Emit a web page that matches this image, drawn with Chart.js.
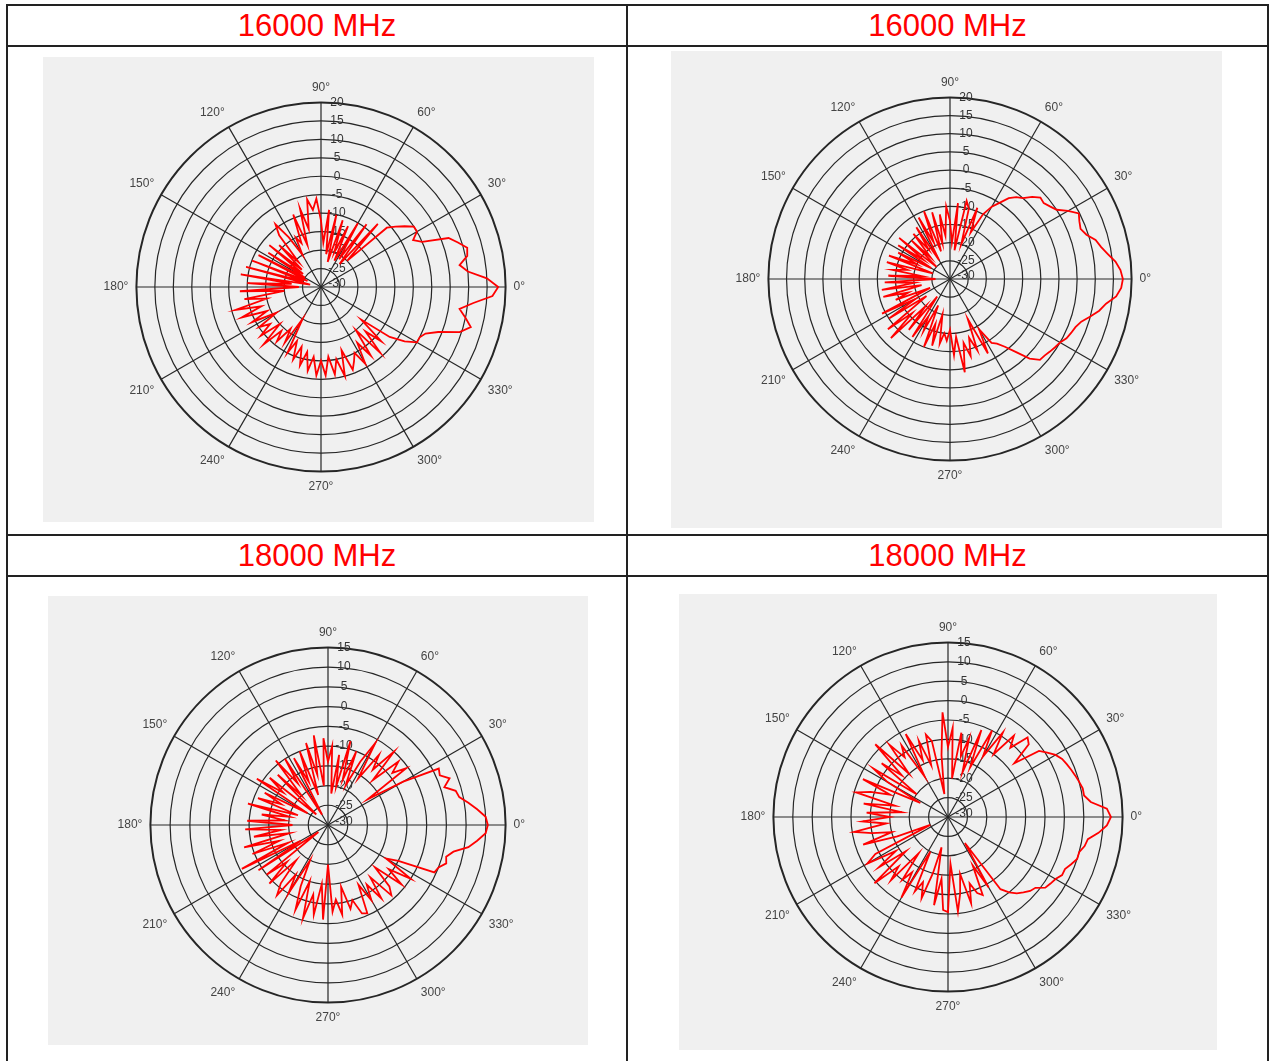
<!DOCTYPE html>
<html>
<head>
<meta charset="utf-8">
<script src="https://cdn.jsdelivr.net/npm/chart.js@4.4.1/dist/chart.umd.min.js"></script>
<style>
  html, body { margin: 0; padding: 0; background: #fff; }
  body { width: 1271px; height: 1061px; position: relative; overflow: hidden; font-family: "Liberation Sans", Arial, sans-serif; }
  .rule { position: absolute; background: #222; }
  .head { position: absolute; color: #ff0000; font-size: 31px; line-height: 39px; height: 39px; text-align: center; }
  .plot { position: absolute; background: #f0f0f0; }
  .plot canvas { display: block; }
</style>
</head>
<body>
<!-- table rules -->
<div class="rule" style="left:6px;top:4px;width:1263px;height:2px"></div>
<div class="rule" style="left:6px;top:4px;width:2px;height:1060px"></div>
<div class="rule" style="left:1267px;top:4px;width:2px;height:1060px"></div>
<div class="rule" style="left:626px;top:4px;width:2px;height:1060px"></div>
<div class="rule" style="left:6px;top:45px;width:1263px;height:2px"></div>
<div class="rule" style="left:6px;top:534px;width:1263px;height:2px"></div>
<div class="rule" style="left:6px;top:575px;width:1263px;height:2px"></div>

<div class="head" style="left:8px;top:6px;width:618px">16000 MHz</div>
<div class="head" style="left:628px;top:6px;width:639px">16000 MHz</div>
<div class="head" style="left:8px;top:536px;width:618px">18000 MHz</div>
<div class="head" style="left:628px;top:536px;width:639px">18000 MHz</div>

<div class="plot" style="left:43px;top:57px;width:551px;height:465px"><canvas id="p1"></canvas></div>
<div class="plot" style="left:671px;top:51px;width:551px;height:477px"><canvas id="p2"></canvas></div>
<div class="plot" style="left:48px;top:596px;width:540px;height:449px"><canvas id="p3"></canvas></div>
<div class="plot" style="left:679px;top:594px;width:538px;height:456px"><canvas id="p4"></canvas></div>

<script>
// azimuth in degrees, counter-clockwise from 0° (right), one sample every 3°
const STEP = 3
const angles = []
for (let a = 0; a < 360; a += STEP) angles.push(a)

// gain in dB, same order as angles (0°, 3°, ... 357°)
const gain16Left = [
  18, 15, 10, 8, 10.5, 11, 9, 7, 0, -2,
  0, 0, -2, -4, -6, -20, -7, -22, -9, -21,
  -10, -22, -12, -20, -11, -23, -10, -21, -9, -18,
  -12, -6, -9, -6, -14, -8, -18, -9, -17, -15,
  -20, -14, -9, -12, -21, -14, -23, -12, -24, -13,
  -25, -11, -26, -10, -25, -9, -27, -8, -22, -10,
  -24, -8, -20, -9, -15, -6, -13, -7, -14, -9,
  -16, -10, -13, -9, -15, -8, -14, -11, -16, -12,
  -20, -10, -14, -9, -13, -8, -12, -7, -11, -6,
  -10, -6, -11, -6, -10, -5, -12, -6, -8, -10,
  -6, -12, -7, -15, -6, -13, -8, -16, -7, -3,
  0, 0, 1, 4, 9.5, 12, 10, 8, 11.5, 16.5
]
const gain16Right = [
  17.6, 17, 15.8, 14, 12.5, 11.5, 9.5, 8.5, 9, 9.8,
  7.5, 5, 4, 3.2, 3.5, 2, 0, -1, -2.5, -5,
  -7, -10, -16, -9, -20, -10, -8, -22, -9, -20,
  -14, -10, -18, -12, -20, -11, -22, -10, -19, -11,
  -24, -13, -20, -14, -22, -15, -25, -12, -21, -13,
  -24, -14, -20, -12, -25, -12, -18, -14, -22, -13,
  -26, -12, -20, -11, -22, -11, -18, -14, -24, -9,
  -19, -10, -22, -8, -16, -7, -20, -12, -24, -11,
  -18, -14, -22, -10, -17, -11, -20, -12, -15, -13,
  -16, -9, -14, -4, -12, -8, -13, -9, -18, -7,
  -14, -9, -8, -6, -3, 1, 3.3, 3.5, 4, 4.5,
  5, 6, 6.5, 7, 8, 10, 12, 13.5, 16, 17.2
]
const gain18Left = [
  10.5, 10, 8, 6, 4, 3.5, 1, 3, 1, 1.5,
  -8, -18, -5.5, -9, -6, -14, -5, -12, -8, -16,
  -6, -12, -19, -10, -18, -8, -20, -12, -22, -10,
  -14, -8, -20, -7, -17, -8.5, -22, -10, -18, -11,
  -27, -10, -17, -9, -20, -12, -26, -11, -16, -8.5,
  -24, -12, -17, -11, -22, -9, -20, -13, -19, -9.5,
  -21, -9, -18, -11, -20, -8, -17, -9.5, -19, -5.5,
  -22, -9, -27, -10, -16, -9, -18, -11, -8, -15,
  -10, -20, -13, -7, -15, -5.5, -12, -7, -15, -6,
  -20, -8, -11, -7, -14, -8, -10, -6, -5.5, -13,
  -8, -12, -7, -13, -6, -8, -14, -6, -11, -5,
  -13, -10, -0.5, 0, 1.5, 1, 2.5, 6, 8, 10
]
const gain18Right = [
  12, 11, 7, 5.5, 5.5, 5, 4.5, 4, 3.5, 3,
  2, 0.5, -1, -8, -2, -1, -6, -3, -10, -4,
  -12, -5, -16, -6, -18, -9, -14, -8, -20, -7,
  -12, -3, -14, -24, -10, -8, -16, -9, -14, -6,
  -18, -8, -11, -6, -15, -3.5, -14, -8, -20, -7,
  -12, -22, -6, -14, -9, -5.5, -16, -8, -18, -9,
  -15, -8, -14, -5.5, -10, -15, -7, -16, -25, -9,
  -6, -14, -8, -16, -4.5, -12, -8, -18, -10, -13,
  -6, -20, -9, -12, -8, -15, -22, -7, -14, -6,
  -5.5, -18, -5.5, -10, -15, -7, -12, -9, -8, -16,
  -9, -22, -7, -5, -3.5, -2.5, -1.5, -1, 1, 1.5,
  2, 3, 3, 4, 5, 5, 6, 6.5, 9, 11
]

// radial tick labels (dB)
const rTicks16 = [20, 15, 10, 5, 0, -5, -10, -15, -20, -25, -30]
const rTicks18 = [15, 10, 5, 0, -5, -10, -15, -20, -25, -30]

const GRID = '#262626'

// draws the dB labels up the 90° spoke, just right of it
const rLabels = {
  id: 'rLabels',
  beforeDatasetsDraw(chart, args, opts) {
    const s = chart.scales.r
    const ctx = chart.ctx
    ctx.save()
    ctx.font = '12px "Liberation Sans", Arial, sans-serif'
    ctx.fillStyle = '#333'
    ctx.textAlign = 'center'
    ctx.textBaseline = 'middle'
    opts.values.forEach(v => {
      const d = s.getDistanceFromCenterForValue(v)
      ctx.fillText(String(v), s.xCenter + 16, s.yCenter - d - (v === -30 ? 3 : 0))
    })
    ctx.restore()
  }
}

function polar(id, gains, rMax, ticks, pad) {
  // radar runs clockwise from the top, so index i sits at 90° - i*STEP
  const labels = []
  const values = []
  for (let i = 0; i < angles.length; i++) {
    const a = (90 - angles[i] + 360) % 360
    labels.push(a % 30 === 0 ? a + '°' : '')
    values.push(gains[angles.indexOf(a)])
  }
  return new Chart(document.getElementById(id), {
    type: 'radar',
    data: {
      labels: labels,
      datasets: [{
        data: values,
        borderColor: '#ff0000',
        borderWidth: 1.8,
        fill: false,
        pointRadius: 0,
        tension: 0
      }]
    },
    options: {
      responsive: true,
      maintainAspectRatio: false,
      animation: false,
      events: [],
      layout: { padding: pad },
      plugins: {
        legend: { display: false },
        tooltip: { enabled: false },
        rLabels: { values: ticks }
      },
      scales: {
        r: {
          min: -30,
          max: rMax,
          startAngle: 0,
          ticks: { display: false, stepSize: 5 },
          grid: {
            circular: true,
            color: GRID,
            lineWidth: (c) => (c.tick && c.tick.value === rMax) ? 2 : 1.2
          },
          angleLines: {
            color: (c) => c.label ? GRID : 'rgba(0,0,0,0)',
            lineWidth: (c) => c.label ? 1.2 : 0
          },
          pointLabels: {
            display: true,
            padding: 8,
            color: '#444',
            font: { family: '"Liberation Sans", Arial, sans-serif', size: 12 }
          }
        }
      }
    },
    plugins: [rLabels]
  })
}

polar('p1', gain16Left, 20, rTicks16, { left: 5, right: 0, top: 23, bottom: 27 })
polar('p2', gain16Right, 20, rTicks16, { left: 7, right: 0, top: 24, bottom: 44 })
polar('p3', gain18Left, 15, rTicks18, { left: 20, right: 0, top: 29, bottom: 20 })
polar('p4', gain18Right, 15, rTicks18, { left: 1, right: 0, top: 26, bottom: 35 })
</script>
</body>
</html>
